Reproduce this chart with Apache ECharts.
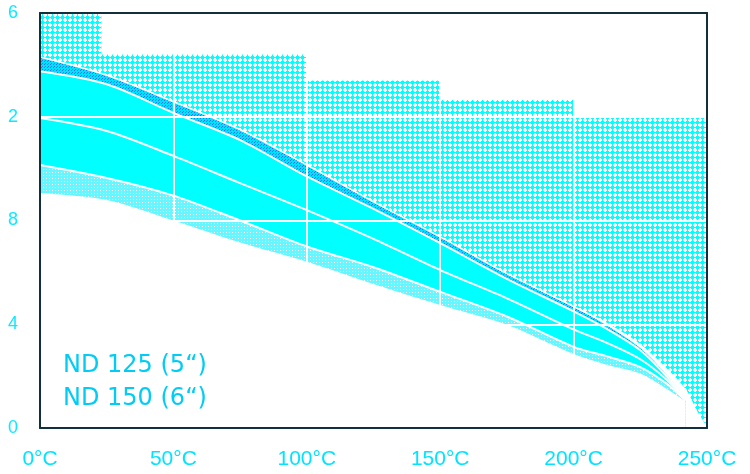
<!DOCTYPE html>
<html>
<head>
<meta charset="utf-8">
<script src="https://cdn.jsdelivr.net/npm/echarts@6/dist/echarts.min.js"></script>
<style>
  html, body { margin: 0; padding: 0; background: #fff; }
  #chart { width: 750px; height: 474px; }
</style>
</head>
<body>
<div id="chart"></div>
<script>
// stepped upper limit of the dotted area
const stepTemps = [0, 23, 100, 150, 200, 250];
const stepLimits = [16, 14.4, 13.4, 12.65, 12, 12];

// lower edge of the dotted area
const floorTemps = [0, 25, 50, 75, 100, 125, 150, 175, 200, 212, 225, 235, 242, 246, 250];
const floorValues = [14.3, 13.6, 12.58, 11.5, 10.14, 8.72, 7.37, 5.95, 4.68, 4.05, 3.2, 2.25, 1.45, 0.65, 0];

// band curves, top to bottom
const bandTemps = [0, 25, 50, 75, 100, 125, 150, 175, 200, 212, 225, 235, 242];
const bandTop = [14.3, 13.6, 12.58, 11.5, 10.14, 8.72, 7.37, 5.95, 4.68, 4.0, 3.1, 2.05, 1.1];
const bandB = [13.75, 13.25, 12.15, 11.1, 9.7, 8.45, 7.13, 5.75, 4.5, 3.85, 3.0, 1.98, 1.1];
const bandC = [11.95, 11.45, 10.49, 9.44, 8.4, 7.29, 6.09, 5.0, 3.8, 3.3, 2.65, 1.85, 1.08];
const bandD = [10.14, 9.64, 8.96, 8.0, 7.0, 6.2, 5.25, 4.3, 3.13, 2.78, 2.35, 1.7, 1.05];
const bandE = [9.06, 8.79, 8.0, 7.15, 6.41, 5.55, 4.74, 3.98, 2.85, 2.45, 2.1, 1.5, 1.02];

const xTickLabels = ['0°C', '50°C', '100°C', '150°C', '200°C', '250°C'];
const yTickLabels = ['0', '4', '8', '2', '6'];
const legendLines = ['ND 125 (5“)', 'ND 150 (6“)'];

const pairs = (xs, ys) => xs.map((x, i) => [x, ys[i]]);

function tile(size, draw) {
  const c = document.createElement('canvas');
  c.width = size; c.height = size;
  draw(c.getContext('2d'));
  return { image: c, repeat: 'repeat' };
}

const meshFill = tile(5, (g) => {
  g.fillStyle = '#fff'; g.fillRect(0, 0, 5, 5);
  g.fillStyle = '#00ffff';
  g.fillRect(1, 1, 3, 3);
  g.fillRect(0, 2, 5, 1);
  g.fillRect(2, 0, 1, 5);
});
const darkFill = tile(3, (g) => {
  g.fillStyle = '#00e0ff'; g.fillRect(0, 0, 3, 3);
  g.fillStyle = '#2a78e8'; g.fillRect(0, 0, 1, 1); g.fillRect(2, 1, 1, 1);
});
const lightFill = tile(3, (g) => {
  g.fillStyle = '#66f6ff'; g.fillRect(0, 0, 3, 3);
  g.fillStyle = '#ffffff'; g.fillRect(1, 1, 1, 1);
});

const curve = (data, area, line) => ({
  type: 'line',
  data,
  symbol: 'none',
  silent: true,
  smooth: 0.3,
  areaStyle: area ? { color: area, opacity: 1 } : undefined,
  lineStyle: line ? { color: '#fff', width: line } : { width: 0 },
});

const chart = echarts.init(document.getElementById('chart'));
const border = { show: true, onZero: false, lineStyle: { color: '#12303c', width: 2 } };

chart.setOption({
  animation: false,
  grid: { left: 40, right: 43, top: 13, bottom: 46 },
  xAxis: [{
    type: 'value', min: 0, max: 250, interval: 50, z: 10,
    axisLine: border, axisTick: { show: false },
    splitLine: { show: true, showMinLine: false, showMaxLine: false, lineStyle: { color: '#fff', width: 2 } },
    axisLabel: {
      margin: 21, fontSize: 21, fontFamily: 'Liberation Sans', color: '#00e4ff',
      textShadowColor: '#d0209a', textShadowOffsetY: 2, textShadowBlur: 0,
      formatter: (v) => xTickLabels[Math.round(v / 50)],
    },
  }, {
    type: 'value', position: 'top', min: 0, max: 250, z: 12,
    axisLine: border, axisTick: { show: false }, axisLabel: { show: false }, splitLine: { show: false },
  }],
  yAxis: [{
    type: 'value', min: 0, max: 16, interval: 4, z: 10,
    axisLine: border, axisTick: { show: false },
    splitLine: { show: true, showMinLine: false, showMaxLine: false, lineStyle: { color: '#fff', width: 2 } },
    axisLabel: {
      margin: 22, fontSize: 18, fontFamily: 'Liberation Sans', color: '#10e8ff',
      formatter: (v) => yTickLabels[Math.round(v / 4)],
    },
  }, {
    type: 'value', position: 'right', min: 0, max: 16, z: 12,
    axisLine: border, axisTick: { show: false }, axisLabel: { show: false }, splitLine: { show: false },
  }],
  graphic: legendLines.map((t, i) => ({
    type: 'text', left: 63, top: 354 + i * 33, z: 100,
    style: { text: t, fill: '#00ccf4', fontSize: 24, fontFamily: 'DejaVu Sans' },
  })),
  series: [
    { type: 'line', data: pairs(stepTemps, stepLimits), step: 'end', symbol: 'none', silent: true,
      areaStyle: { color: meshFill, opacity: 1 }, lineStyle: { width: 0 } },
    curve(pairs(floorTemps, floorValues), '#ffffff', 1.5),
    curve(pairs(bandTemps, bandTop), darkFill, 1),
    curve(pairs(bandTemps, bandB), '#00ffff', 2),
    curve(pairs(bandTemps, bandD), lightFill, 2),
    curve(pairs(bandTemps, bandE), '#ffffff', 0),
    curve(pairs(bandTemps, bandC), null, 2),
  ],
});
</script>
</body>
</html>
